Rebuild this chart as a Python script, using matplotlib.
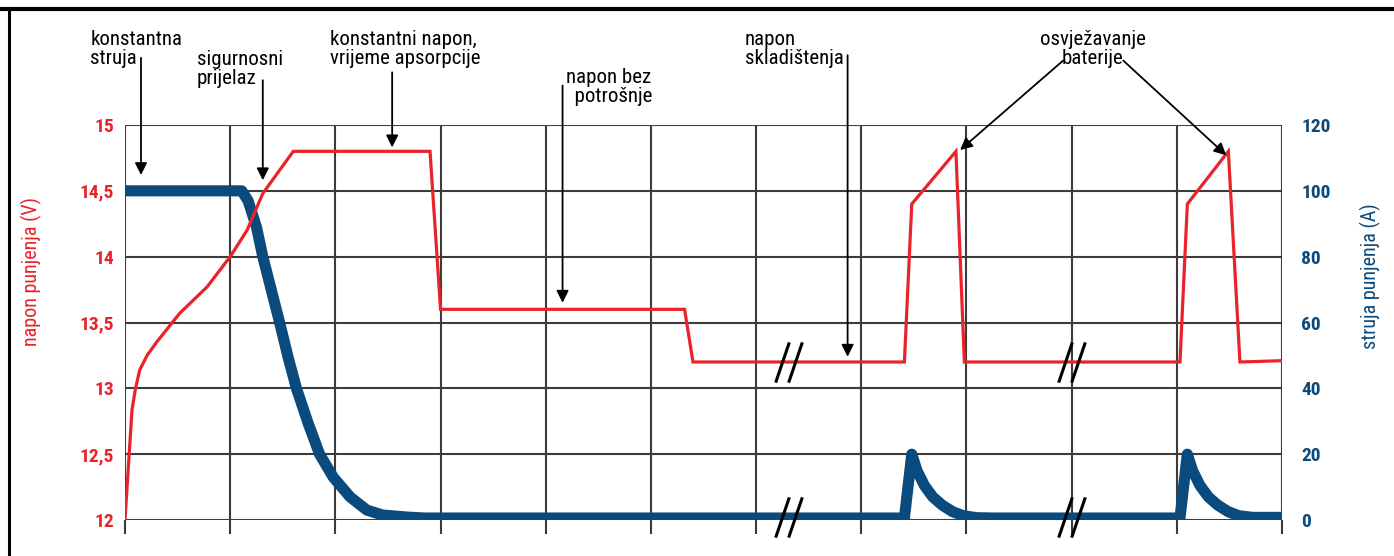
import numpy as np
import matplotlib
matplotlib.use("Agg")
import matplotlib.pyplot as plt
from matplotlib import font_manager
from matplotlib.lines import Line2D

# pick a narrow font if one is around
available = set(f.name for f in font_manager.fontManager.ttflist)
narrow = "DejaVu Sans"
for name in ["Liberation Sans Narrow", "Roboto Condensed", "DejaVu Sans Condensed", "Liberation Sans"]:
    if name in available:
        narrow = name
        break
plt.rcParams["font.family"] = [narrow, "DejaVu Sans"]

RED = "#e8232a"
BLUE = "#0b4a7c"
GRID = "#3c3c3c"

# time axis in grid units (11 divisions)
volt_x = [0, 0.03, 0.067, 0.1, 0.14, 0.21, 0.3, 0.52, 0.78, 1.0, 1.16, 1.31, 1.6, 2.9, 3.0,
          5.32, 5.4, 7.41, 7.48, 7.9, 7.98, 10.03, 10.1, 10.49, 10.6, 11.0]
volt_y = [12.0, 12.38, 12.84, 13.0, 13.14, 13.25, 13.35, 13.57, 13.77, 14.0, 14.2, 14.48, 14.8,
          14.8, 13.6, 13.6, 13.2, 13.2, 14.4, 14.8, 13.2, 13.2, 14.4, 14.8, 13.2, 13.21]

curr_x = [0, 1.11, 1.17, 1.25, 1.31, 1.39, 1.47, 1.55, 1.63, 1.74, 1.85, 1.98, 2.14, 2.3,
          2.45, 2.68, 2.85,
          7.41, 7.48, 7.53, 7.6, 7.68, 7.77, 7.87, 7.97, 8.1, 8.25,
          10.03, 10.1, 10.15, 10.22, 10.3, 10.39, 10.49, 10.59, 10.72, 10.87, 11.0]
curr_y = [100, 100, 97, 89, 80, 70, 60, 49.5, 40, 29.5, 20, 13, 7, 3,
          1.5, 0.9, 0.6,
          0.6, 20, 15, 10.5, 7, 4.5, 2.5, 1.3, 0.7, 0.6,
          0.6, 20, 15, 10.5, 7, 4.5, 2.5, 1.3, 0.8, 0.8, 0.8]

volt_ticks = [12, 12.5, 13, 13.5, 14, 14.5, 15]
volt_labels = ["12", "12,5", "13", "13,5", "14", "14,5", "15"]
curr_ticks = [0, 20, 40, 60, 80, 100, 120]
curr_labels = ["0", "20", "40", "60", "80", "100", "120"]

break_x = [6.31, 9.0]
break_volt = 13.2
break_curr = 1.0

fig = plt.figure(figsize=(13.94, 5.56), dpi=100)
ax2 = fig.add_axes([125 / 1394, 36 / 556, 1157 / 1394, 395 / 556])
ax = ax2.twinx()
ax.set_zorder(ax2.get_zorder() + 1)
ax.patch.set_visible(False)

# grid and current on the bottom axes
ax2.set_xlim(0, 11)
ax2.set_ylim(0, 120)
ax2.set_xticks(range(12))
ax2.set_yticks(curr_ticks)
ax2.grid(True, color=GRID, lw=1.5)
ax2.tick_params(axis="x", direction="out", length=10, width=1.5, color=GRID, labelbottom=False)
ax2.tick_params(axis="y", length=0, labelleft=False, labelright=False)
for s in ax2.spines.values():
    s.set_visible(False)
ax2.plot(curr_x, curr_y, color=BLUE, lw=8, solid_capstyle="round", solid_joinstyle="round", zorder=3)

# voltage on the top axes
ax.set_xlim(0, 11)
ax.set_ylim(12, 15)
ax.plot(volt_x, volt_y, color=RED, lw=2.3, solid_joinstyle="miter", zorder=3)
for s in ax.spines.values():
    s.set_visible(False)
ax.yaxis.tick_left()
ax.set_yticks(volt_ticks)
ax.set_yticklabels(volt_labels, color=RED, fontweight="bold", fontsize=14)
ax.tick_params(axis="y", length=0, pad=8)
ax.tick_params(axis="x", length=0, labelbottom=False)

# right labels for current
ax2.yaxis.tick_right()
ax2.set_yticks(curr_ticks)
ax2.set_yticklabels(curr_labels, color=BLUE, fontweight="bold", fontsize=14)
ax2.tick_params(axis="y", length=0, labelright=True, pad=14)

ax.yaxis.set_label_position("left")
ax.set_ylabel("napon punjenja (V)", color=RED, fontsize=14.5)
ax.yaxis.set_label_coords(-0.072, 0.628)
ax2.yaxis.set_label_position("right")
ax2.set_ylabel("struja punjenja (A)", color=BLUE, fontsize=14.5)
ax2.yaxis.set_label_coords(1.067, 0.618)

# break marks
slash = [(-0.34, -1), (0.34, 1)]
for bx in break_x:
    for dx in (-0.062, 0.062):
        ax.plot([bx + dx], [break_volt], marker=slash, markersize=29, mfc="none",
                mec="black", mew=2.2, zorder=5, clip_on=False)
        ax2.plot([bx + dx], [break_curr], marker=slash, markersize=29, mfc="none",
                 mec="black", mew=2.2, zorder=5, clip_on=False)

# annotations
tsize = 15
arrow = dict(arrowstyle="-|>", color="black", lw=1.3, mutation_scale=18, shrinkA=0, shrinkB=0)

ax.text(-0.33, 15.72, "konstantna\nstruja", fontsize=tsize, va="top", ha="left", linespacing=1.0)
ax.annotate("", xy=(0.152, 14.62), xytext=(0.152, 15.51), arrowprops=arrow, annotation_clip=False)

ax.text(0.684, 15.57, "sigurnosni\nprijelaz", fontsize=tsize, va="top", ha="left", linespacing=1.0)
ax.annotate("", xy=(1.31, 14.58), xytext=(1.31, 15.34), arrowprops=arrow, annotation_clip=False)

ax.text(1.95, 15.72, "konstantni napon,\nvrijeme apsorpcije", fontsize=tsize, va="top", ha="left",
        linespacing=1.0)
ax.annotate("", xy=(2.54, 14.83), xytext=(2.54, 15.40), arrowprops=arrow, annotation_clip=False)

ax.text(4.6, 15.43, "napon bez\n  potrošnje", fontsize=tsize, va="top", ha="center", linespacing=1.0)
ax.annotate("", xy=(4.16, 13.65), xytext=(4.16, 15.30), arrowprops=arrow, annotation_clip=False)

ax.text(5.89, 15.72, "napon\nskladištenja", fontsize=tsize, va="top", ha="left", linespacing=1.0)
ax.annotate("", xy=(6.87, 13.24), xytext=(6.87, 15.53), arrowprops=arrow, annotation_clip=False)

ax.text(9.2, 15.72, "osvježavanje\nbaterije", fontsize=tsize, va="top", ha="center", linespacing=1.0)
ax.annotate("", xy=(7.94, 14.81), xytext=(8.92, 15.49), arrowprops=arrow, annotation_clip=False)
ax.annotate("", xy=(10.47, 14.77), xytext=(9.49, 15.49), arrowprops=arrow, annotation_clip=False)

# frame of the original picture (top and left edges)
fig.add_artist(Line2D([0, 1], [1 - 8.5 / 556] * 2, transform=fig.transFigure, color="black", lw=3))
fig.add_artist(Line2D([8.5 / 1394] * 2, [0, 1 - 8.5 / 556], transform=fig.transFigure, color="black", lw=2.2))

fig.savefig("out.png", dpi=100)
